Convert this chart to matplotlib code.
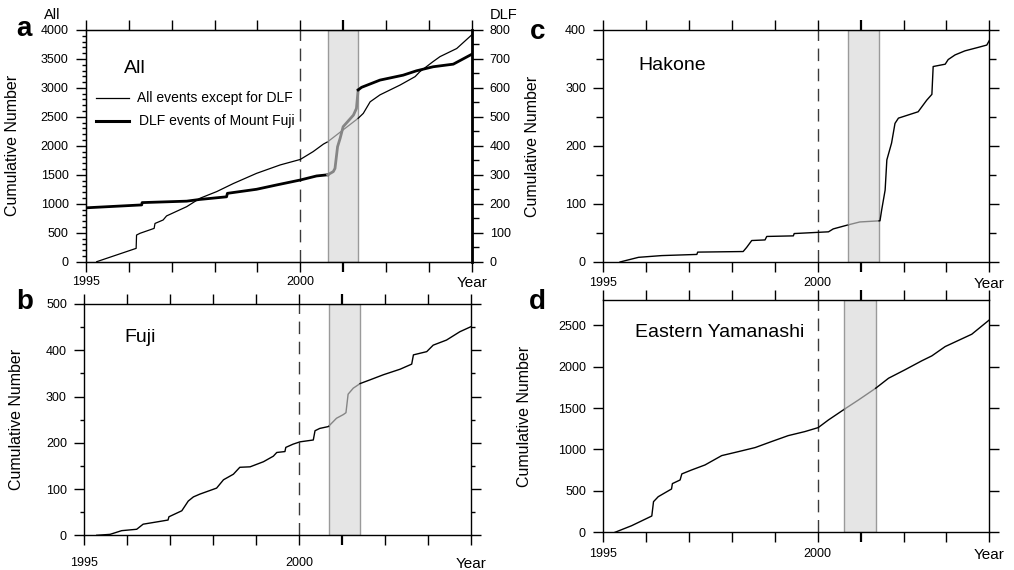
import numpy as np
import matplotlib
matplotlib.use('Agg')
import matplotlib.pyplot as plt
from matplotlib.ticker import MultipleLocator

plt.rcParams['font.family'] = ['Liberation Sans', 'DejaVu Sans']

# --- data (decimal year, cumulative count) ---
# a: all events except DLF (left axis)
all_t = [1995.25, 1996.17, 1996.18, 1996.26, 1996.59, 1996.61, 1996.80, 1996.88,
         1997.35, 1997.66, 1998.05, 1998.44, 1998.98, 1999.53, 2000.00, 2000.30,
         2000.54, 2000.64, 2001.35, 2001.47, 2001.63, 2001.86, 2002.33, 2002.68,
         2002.79, 2003.10, 2003.26, 2003.65, 2004.00]
all_v = [0, 230, 460, 490, 575, 660, 720, 790, 950, 1095, 1210, 1350, 1525, 1670,
         1765, 1900, 2030, 2070, 2475, 2560, 2760, 2880, 3050, 3195, 3280, 3455,
         3540, 3680, 3915]
# a: DLF events of Mount Fuji (right axis)
dlf_t = [1995.00, 1996.30, 1996.31, 1997.35, 1997.66, 1998.28, 1998.30, 1998.98,
         1999.45, 2000.00, 2000.38, 2000.64, 2000.77, 2000.81, 2000.87, 2000.93,
         2001.00, 2001.24, 2001.31, 2001.35, 2001.43, 2001.86, 2002.40, 2002.71,
         2003.10, 2003.57, 2004.00]
dlf_v = [186, 196, 204, 209, 215, 224, 236, 250, 265, 282, 296, 300, 311, 322, 397,
         426, 466, 506, 529, 593, 602, 627, 644, 659, 673, 682, 716]
# b: Fuji
fuji_t = [1995.29, 1995.60, 1995.87, 1996.22, 1996.37, 1996.76, 1996.95, 1996.97,
          1997.27, 1997.42, 1997.54, 1997.69, 1998.08, 1998.24, 1998.47, 1998.62,
          1998.86, 1999.17, 1999.40, 1999.48, 1999.67, 1999.69, 1999.86, 2000.02,
          2000.33, 2000.37, 2000.48, 2000.68, 2000.87, 2001.03, 2001.09, 2001.14,
          2001.26, 2001.42, 2001.65, 2001.96, 2002.35, 2002.62, 2002.66, 2002.97,
          2003.12, 2003.43, 2003.74, 2004.00]
fuji_v = [0, 2, 10, 13, 24, 30, 33, 40, 53, 74, 83, 89, 102, 120, 132, 147, 148,
          159, 171, 179, 181, 190, 197, 202, 206, 226, 231, 235, 253, 261, 265, 305,
          318, 328, 336, 347, 359, 370, 390, 397, 411, 422, 440, 451]
# c: Hakone
hak_t = [1995.39, 1995.82, 1996.36, 1997.18, 1997.20, 1998.26, 1998.34, 1998.46,
         1998.77, 1998.81, 1999.43, 1999.45, 2000.25, 2000.36, 2000.71, 2000.98,
         2001.45, 2001.49, 2001.57, 2001.61, 2001.72, 2001.80, 2001.88, 2002.34,
         2002.54, 2002.66, 2002.69, 2002.97, 2003.04, 2003.20, 2003.43, 2003.74,
         2003.94, 2004.00]
hak_v = [0, 8, 11, 13, 17, 18, 25, 37, 38, 44, 45, 49, 52, 57, 64, 69, 71, 90, 124,
         176, 205, 239, 248, 259, 279, 289, 337, 341, 349, 357, 364, 370, 374, 382]
# d: Eastern Yamanashi
yam_t = [1995.27, 1995.66, 1996.13, 1996.17, 1996.28, 1996.59, 1996.61, 1996.79,
         1996.83, 1997.06, 1997.37, 1997.76, 1998.15, 1998.54, 1998.92, 1999.31,
         1999.70, 2000.01, 2000.25, 2000.48, 2000.62, 2000.95, 2001.35, 2001.65,
         2002.03, 2002.42, 2002.66, 2002.97, 2003.59, 2004.00]
yam_v = [0, 80, 197, 370, 430, 523, 588, 632, 705, 753, 813, 926, 974, 1023, 1095,
         1167, 1216, 1264, 1357, 1437, 1486, 1598, 1739, 1860, 1961, 2069, 2130,
         2242, 2391, 2564]

years = list(range(1995, 2005))
year_labels = ['1995', '', '', '', '', '2000', '', '', '', 'Year']


def draw_curve(ax, t, v, span, lw):
    # black outside the shaded period, grey inside it
    t = np.asarray(t, float)
    v = np.asarray(v, float)
    s0, s1 = span
    v0, v1 = np.interp(s0, t, v), np.interp(s1, t, v)
    pre, mid, post = t < s0, (t > s0) & (t < s1), t > s1
    ax.plot(np.r_[t[pre], s0], np.r_[v[pre], v0], color='black', lw=lw, zorder=3)
    ax.plot(np.r_[s0, t[mid], s1], np.r_[v0, v[mid], v1], color='#858585', lw=lw, zorder=3)
    ax.plot(np.r_[s1, t[post]], np.r_[v1, v[post]], color='black', lw=lw, zorder=3)


def setup(ax, span, ymax, major, minor, right=True, xpad=3):
    ax.set_xlim(1995, 2004)
    ax.set_ylim(0, ymax)
    ax.axvspan(span[0], span[1], facecolor='#e5e5e5', edgecolor='#9a9a9a', lw=1, zorder=1)
    ax.axvline(2000, color='#3a3a3a', lw=1, dashes=(9, 5.5), zorder=2)
    ax.set_xticks(years)
    ax.set_xticklabels(year_labels)
    ax.yaxis.set_major_locator(MultipleLocator(major))
    if minor:
        ax.yaxis.set_minor_locator(MultipleLocator(minor))
    ax.tick_params(axis='x', which='major', direction='out', length=7.5, width=1,
                   top=True, pad=xpad, labelsize=9)
    ax.tick_params(axis='y', which='major', direction='out', length=7.5, width=1,
                   right=right, pad=5, labelsize=9)
    ax.tick_params(axis='y', which='minor', direction='out', length=3, width=1, right=right)
    ax.get_xticklabels()[-1].set_fontsize(11)
    for tk in ax.xaxis.get_major_ticks():
        if tk.get_loc() == 2001:
            tk.tick1line.set_markeredgewidth(1.6)
            tk.tick2line.set_markeredgewidth(1.6)
    for s in ax.spines.values():
        s.set_linewidth(1)
    ax.set_ylabel('Cumulative Number', fontsize=11.5)


fig = plt.figure(figsize=(10.14, 5.70), dpi=100)

# a
ax = fig.add_axes([0.0848, 0.5409, 0.3804, 0.4065])
span_a = (2000.64, 2001.35)
setup(ax, span_a, 4000, 500, 100, right=False)
ax.yaxis.set_label_coords(-0.171, 0.5)
draw_curve(ax, all_t, all_v, span_a, 0.9)
ax2 = ax.twinx()
ax2.set_ylim(0, 800)
ax2.yaxis.set_major_locator(MultipleLocator(100))
ax2.yaxis.set_minor_locator(MultipleLocator(50))
ax2.tick_params(axis='y', which='major', direction='out', length=8, width=1, pad=5, labelsize=9)
ax2.tick_params(axis='y', which='minor', direction='out', length=5, width=1)
ax2.spines['right'].set_linewidth(2)
draw_curve(ax2, dlf_t, dlf_v, span_a, 2.0)
ax.text(0.0985, 0.832, 'All', transform=ax.transAxes, fontsize=14, va='center')
ax.plot([0.026, 0.111], [0.7065, 0.7065], transform=ax.transAxes, color='black', lw=0.9)
ax.text(0.132, 0.7065, 'All events except for DLF', transform=ax.transAxes,
        fontsize=10, va='center')
ax.plot([0.026, 0.111], [0.607, 0.607], transform=ax.transAxes, color='black', lw=2.2)
ax.text(0.137, 0.607, 'DLF events of Mount Fuji', transform=ax.transAxes,
        fontsize=10, va='center')
fig.text(0.0513, 0.9737, 'All', fontsize=10.5, ha='center', va='center')
fig.text(0.497, 0.9737, 'DLF', fontsize=10.5, ha='center', va='center')

# b
ax = fig.add_axes([0.0831, 0.0609, 0.3814, 0.4058])
span_b = (2000.70, 2001.42)
setup(ax, span_b, 500, 100, 50, xpad=8)
ax.yaxis.set_label_coords(-0.156, 0.5)
draw_curve(ax, fuji_t, fuji_v, span_b, 1.0)
ax.text(0.105, 0.857, 'Fuji', transform=ax.transAxes, fontsize=14, va='center')

# c
ax = fig.add_axes([0.595, 0.5404, 0.3807, 0.407])
span_c = (2000.71, 2001.43)
setup(ax, span_c, 400, 100, 50)
ax.tick_params(axis='y', which='minor', length=5)
ax.yaxis.set_label_coords(-0.164, 0.5)
draw_curve(ax, hak_t, hak_v, span_c, 1.0)
ax.text(0.09, 0.845, 'Hakone', transform=ax.transAxes, fontsize=14, va='center')

# d
ax = fig.add_axes([0.595, 0.0661, 0.3807, 0.407])
span_d = (2000.62, 2001.35)
setup(ax, span_d, 2800, 500, None, xpad=4)
ax.yaxis.set_label_coords(-0.185, 0.5)
draw_curve(ax, yam_t, yam_v, span_d, 1.0)
ax.text(0.082, 0.863, 'Eastern Yamanashi', transform=ax.transAxes, fontsize=14, va='center')

for lbl, x, y in [('a', 0.0237, 0.949), ('b', 0.0247, 0.470),
                  ('c', 0.5306, 0.944), ('d', 0.5296, 0.470)]:
    fig.text(x, y, lbl, fontsize=20, fontweight='bold', ha='center', va='center')

fig.savefig('out.png', dpi=100)
